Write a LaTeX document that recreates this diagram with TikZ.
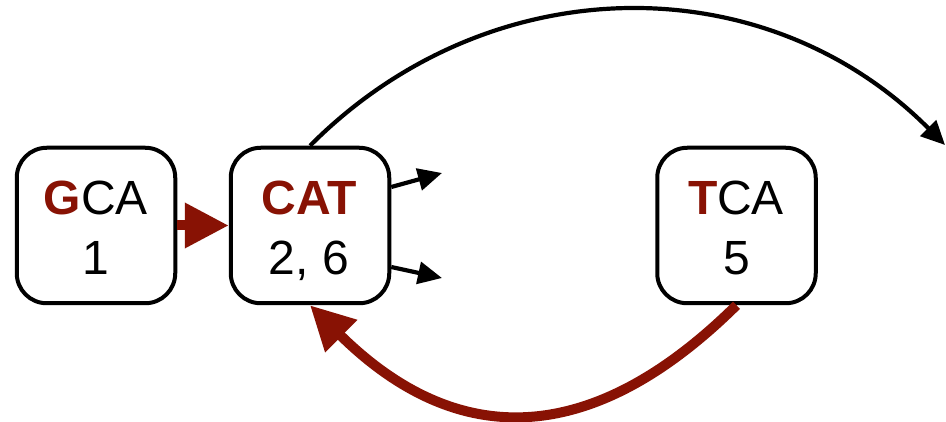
\documentclass[tikz,border=0pt]{standalone}
\usepackage{fontspec}
\setmainfont{Liberation Sans}
\usetikzlibrary{arrows.meta}
\definecolor{dnared}{RGB}{136,18,4}
\tikzset{
  box/.style={draw=black, line width=4pt, rounded corners=30pt, minimum width=158.5pt, minimum height=155.5pt, inner sep=0pt, fill=white},
  lbl/.style={inner sep=0pt, anchor=base, font=\fontsize{48}{58}\selectfont},
  redarrow/.style={draw=dnared, line width=10pt, -{Triangle[length=44pt,width=43pt]}},
  blackarrow/.style={draw=black, line width=4.2pt, -{Triangle[length=24pt,width=22pt]}},
}
\begin{document}
\begin{tikzpicture}[x=1pt,y=-1pt]
\useasboundingbox (0,0) rectangle (946,422);
\node[box] (g) at (96,225.5) {};
\node[box] (c) at (310,225.5) {};
\node[box] (t) at (736.5,225.5) {};
\node[lbl] (g1) at (96,215) {\textcolor{dnared}{\textbf{G}}CA};
\node[lbl] (g2) at (96,275) {1};
\node[lbl] (c1) at (309,215) {\textcolor{dnared}{\textbf{CAT}}};
\node[lbl] (c2) at (309,275) {2, 6};
\node[lbl] (t1) at (736,215) {\textcolor{dnared}{\textbf{T}}CA};
\node[lbl] (t2) at (737,275) {5};
\coordinate (e) at (945,145);
\coordinate (a1) at (442,173);
\coordinate (a2) at (442,278);
\draw[redarrow] (g.east) -- (c.west);
\draw[redarrow] (t.south) .. controls (590.5,449.5) and (456,449.5) .. (c.south);
\draw[blackarrow] (c.north) .. controls (490,-35) and (766,-35) .. (e);
\draw[blackarrow] ([yshift=38.5pt]c.east) -- (a1);
\draw[blackarrow] ([yshift=-41.5pt]c.east) -- (a2);
\end{tikzpicture}
\end{document}
